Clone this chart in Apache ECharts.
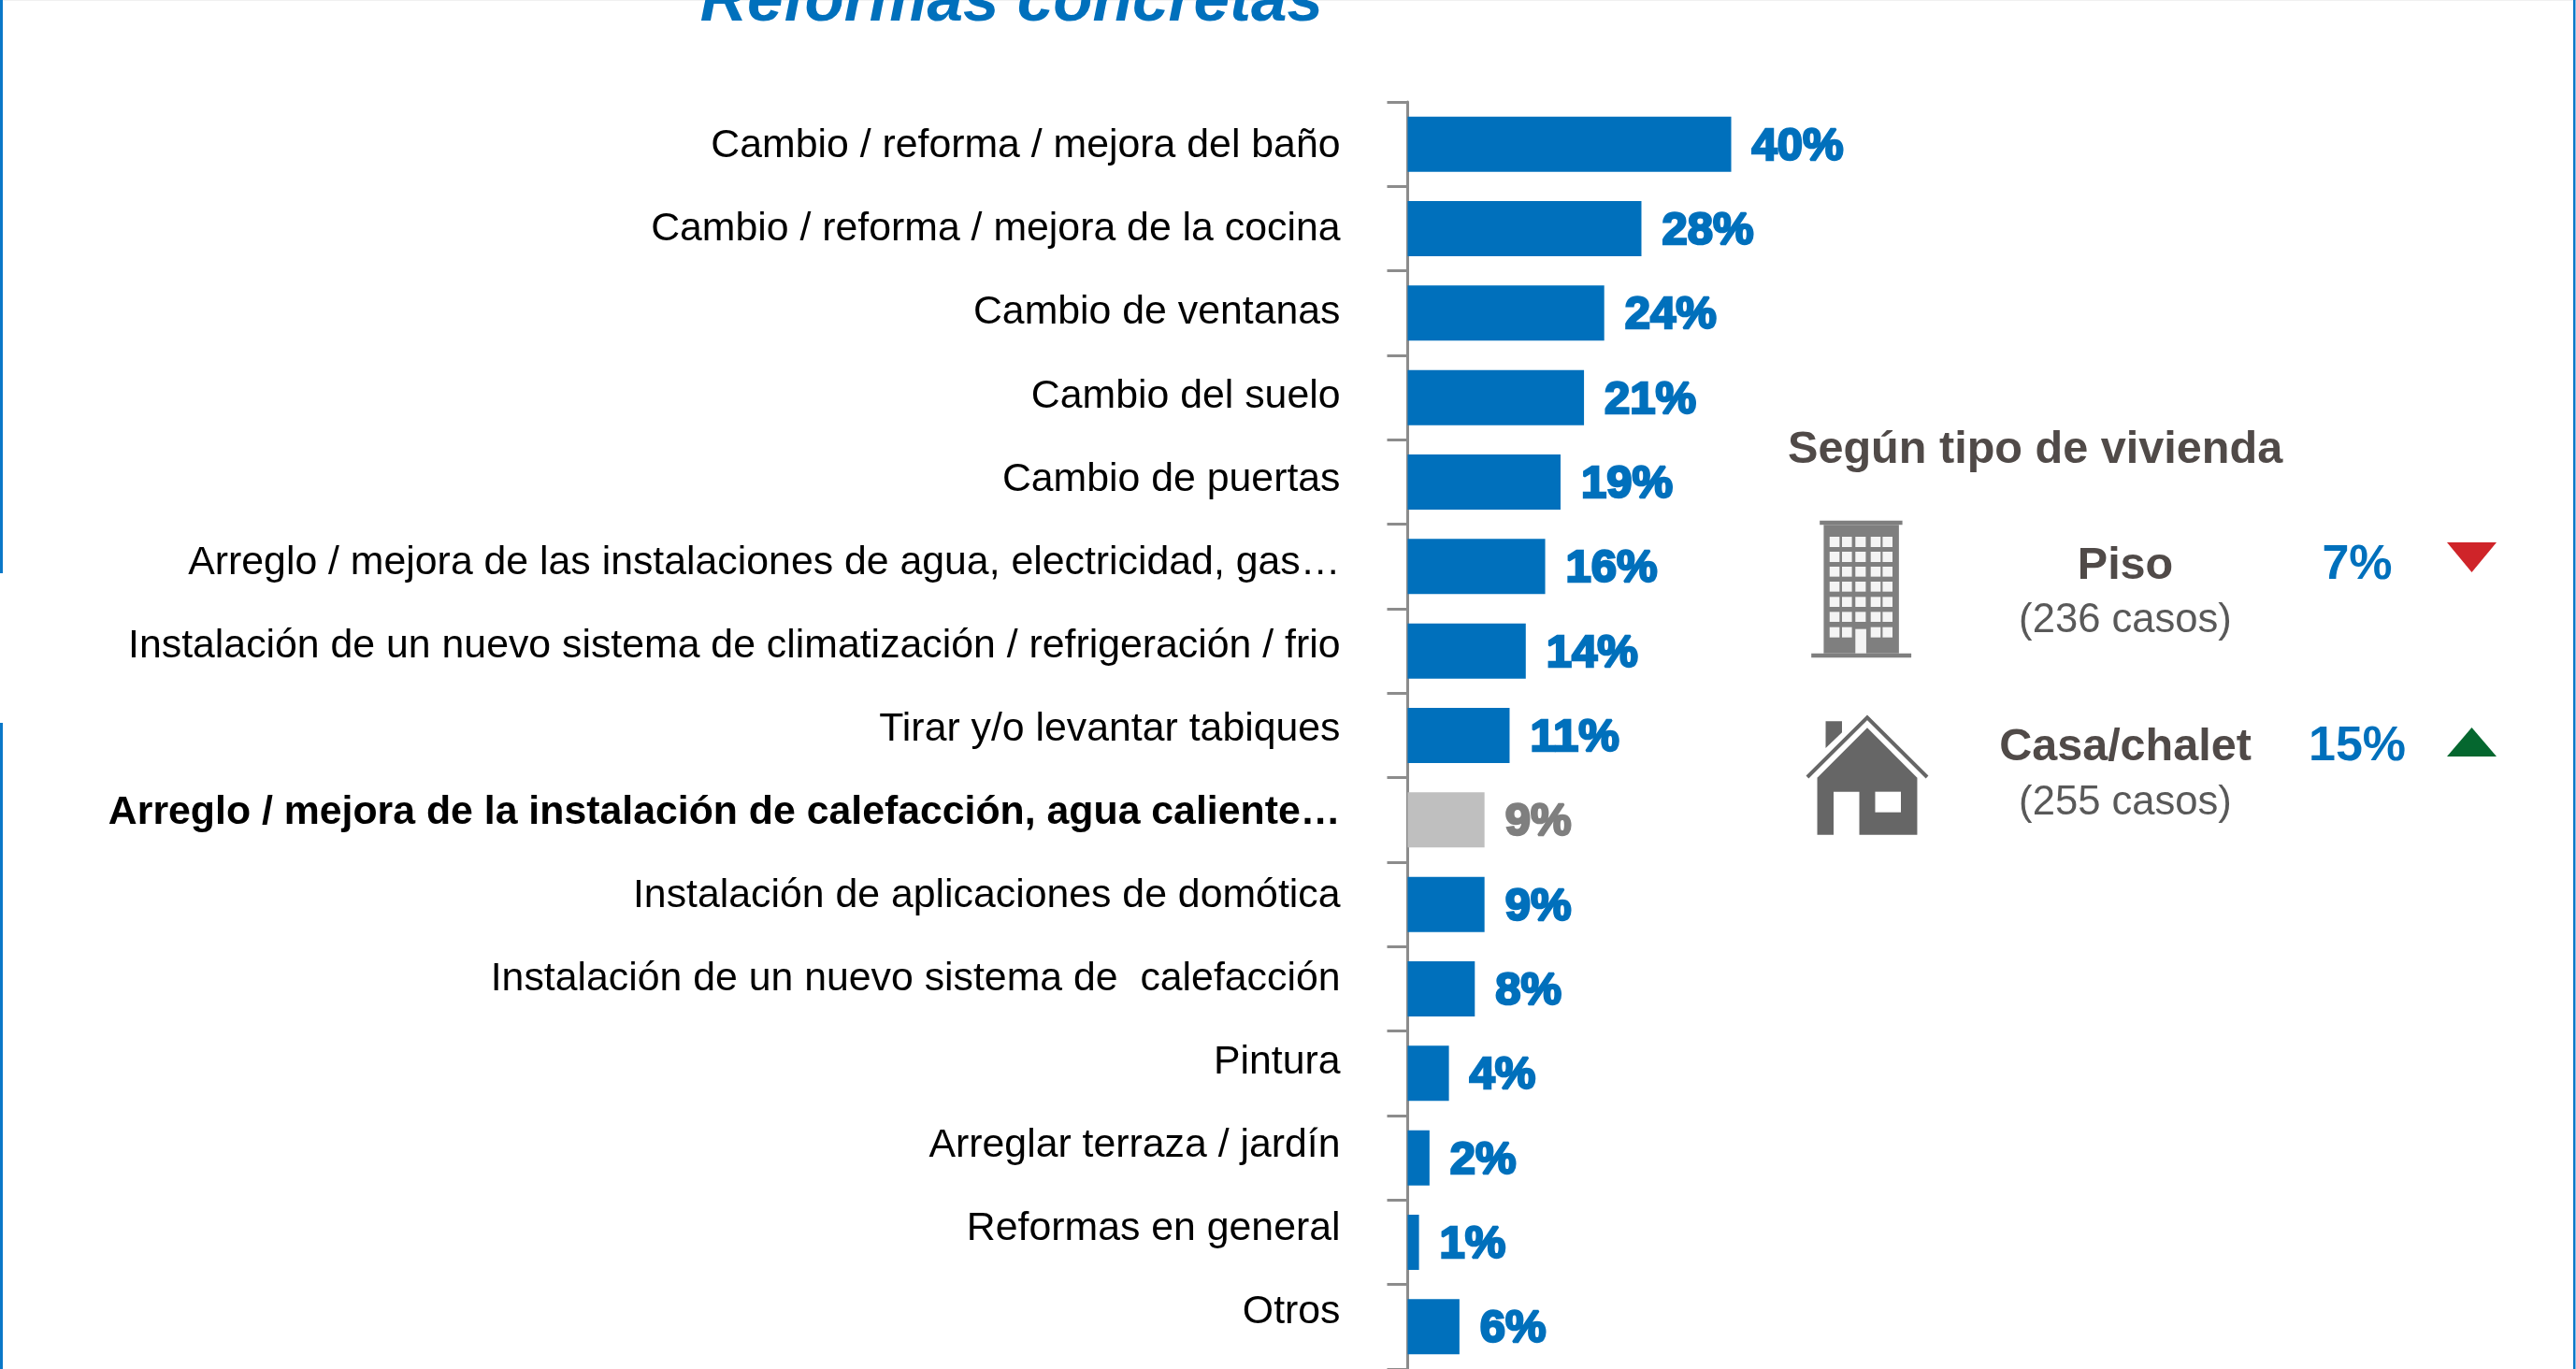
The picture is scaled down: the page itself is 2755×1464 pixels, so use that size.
<!DOCTYPE html>
<html><head><meta charset="utf-8">
<style>html,body{margin:0;padding:0;background:#fff}#c{width:2755px;height:1464px}</style>
<script src="https://cdn.jsdelivr.net/npm/echarts@6/dist/echarts.min.js"></script>
</head><body><div id="c"></div>
<script>
const categories = ["Cambio / reforma / mejora del baño","Cambio / reforma / mejora de la cocina","Cambio de ventanas","Cambio del suelo","Cambio de puertas","Arreglo / mejora de las instalaciones de agua, electricidad, gas…","Instalación de un nuevo sistema de climatización / refrigeración / frio","Tirar y/o levantar tabiques","Arreglo / mejora de la instalación de calefacción, agua caliente…","Instalación de aplicaciones de domótica","Instalación de un nuevo sistema de  calefacción","Pintura","Arreglar terraza / jardín","Reformas en general","Otros"];
const barValues = [40,28.9,24.3,21.8,18.9,17.0,14.6,12.6,9.5,9.5,8.3,5.1,2.7,1.4,6.4];
const valueLabels = ["40%","28%","24%","21%","19%","16%","14%","11%","9%","9%","8%","4%","2%","1%","6%"];
const highlightIndex = 8;
const BLUE='#0070bc', GREY='#bfbfbf', GREYTXT='#7f7f7f', DARK='#504a48', MID='#595959';
const txt=(x,base,text,size,weight,fill,align,style)=>({type:'text',x,y:base-0.28*size,silent:true,style:{text,x:0,y:0,fill,align:align||'center',verticalAlign:'middle',font:(style?style+' ':'')+(weight||'normal')+' '+size+'px "Liberation Sans"'}});
const X=v=>1880+v/1.889, Y=v=>430+v/3;
const rect=(x,y,w,h,fill)=>({type:'rect',silent:true,shape:{x,y,width:w,height:h},style:{fill}});
const g=[];
// marco
g.push(rect(0,0,2755,1,'#f0f0f0'));
g.push(rect(0,0,3,613,'#0a78c8'),rect(0,773,3,691,'#0a78c8'),rect(2752,0,2.5,1464,'#0a78c8'));
// titulo
g.push(txt(1082,22,'Reformas concretas',69.3,'bold',BLUE,'center','italic'));
// panel
g.push(txt(1912,495,'Según tipo de vivienda',48.6,'bold',DARK,'left'));
g.push(txt(2273,619,'Piso',48.5,'bold',DARK),txt(2273,676,'(236 casos)',43.6,'normal',MID));
g.push(txt(2273,813,'Casa/chalet',48.5,'bold',DARK),txt(2273,871,'(255 casos)',43.6,'normal',MID));
g.push(txt(2521,619,'7%',52,'bold',BLUE),txt(2521,813,'15%',52,'bold',BLUE));
g.push({type:'polygon',silent:true,shape:{points:[[2617,580],[2670,580],[2643.5,612]]},style:{fill:'#cf2429'}});
g.push({type:'polygon',silent:true,shape:{points:[[2617,809],[2670,809],[2643.5,778]]},style:{fill:'#05672f'}});
// edificio
const BLD='#7f7f7f';
g.push(rect(X(125),Y(380),X(292)-X(125),Y(394)-Y(380),BLD),rect(X(133),Y(394),X(285)-X(133),Y(806)-Y(394),BLD),rect(X(108),Y(806),X(310)-X(108),Y(820)-Y(806),BLD));
const wc=[[145,165],[170,190],[197,218],[228,248],[252,272]], wr=[[432,465],[480,513],[528,560],[576,608],[625,657],[673,705],[722,755]];
wr.forEach((r,i)=>wc.forEach((c,j)=>{ if(i===6&&j===2) return; g.push(rect(X(c[0]),Y(r[0]),X(c[1])-X(c[0]),Y(r[1])-Y(r[0]),'#f4f4f4')); }));
g.push(rect(X(197),Y(728),X(219)-X(197),Y(806)-Y(728),'#f4f4f4'));
// casa
const HS='#666666';
g.push({type:'polygon',silent:true,shape:{points:[[X(137),Y(1024)],[X(170),Y(1024)],[X(170),Y(1060)],[X(137),Y(1110)]]},style:{fill:HS}});
g.push({type:'polygon',silent:true,shape:{points:[[X(221),Y(1045)],[X(120),Y(1205)],[X(120),Y(1388)],[X(322),Y(1388)],[X(322),Y(1205)]]},style:{fill:HS}});
g.push({type:'polyline',silent:true,shape:{points:[[X(100),Y(1203)],[X(221),Y(1012)],[X(342),Y(1203)]]},style:{stroke:HS,fill:'none',lineWidth:4}});
g.push(rect(X(153),Y(1250),X(205)-X(153),Y(1388)-Y(1250)+1,'#fff'),rect(X(237),Y(1250),X(289)-X(237),Y(1316)-Y(1250),'#fff'));

const chart=echarts.init(document.getElementById('c'),null,{renderer:'canvas'});
chart.setOption({
 animation:false,backgroundColor:'#fff',
 grid:[{left:1505.5,top:109,width:865,height:1355.6},{left:1505.5,top:112,width:865,height:1336}],
 xAxis:[{type:'value',min:0,max:100,show:false},{type:'value',min:0,max:100,show:false,gridIndex:1}],
 yAxis:[{type:'category',inverse:true,data:categories,
  axisLine:{show:true,lineStyle:{color:'#8c8c8c',width:3}},
  axisTick:{show:true,length:22,lineStyle:{color:'#8c8c8c',width:3}},
  axisLabel:{show:false},splitLine:{show:false}},
  {type:'category',inverse:true,gridIndex:1,
  data:categories.map((c,i)=>i===highlightIndex?{value:c,textStyle:{fontWeight:'bold',color:'#000'}}:c),
  axisLine:{show:false},axisTick:{show:false},
  axisLabel:{color:'#000',fontFamily:'Liberation Sans',fontSize:42.8,margin:72,align:'right',verticalAlign:'middle',interval:0,hideOverlap:false},
  splitLine:{show:false}}],
 series:[{type:'bar',barWidth:59,z:1,
  data:barValues.map((v,i)=>({value:v,itemStyle:{color:i===highlightIndex?GREY:BLUE},
    label:{show:true,position:'right',distance:22,offset:[0,3],formatter:valueLabels[i],fontFamily:'Liberation Sans',fontWeight:'bold',fontSize:49,
      color:i===highlightIndex?GREYTXT:BLUE,textBorderColor:i===highlightIndex?GREYTXT:BLUE,textBorderWidth:2.5}}))}],
 graphic:{elements:g}
});
</script></body></html>
